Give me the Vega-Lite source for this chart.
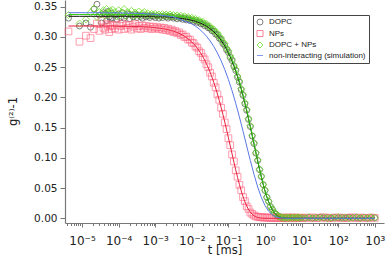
{
"$schema":"https://vega.github.io/schema/vega-lite/v6.json",
"width":319,"height":223,"autosize":"none",
"padding":{"left":65,"top":0,"right":4,"bottom":36},
"config":{"view":{"stroke":null},
"axis":{"domainColor":"#777","tickColor":"#777","domainWidth":1.2,"labelFont":"DejaVu Sans","labelFontSize":10.5,"labelColor":"#222","titleFont":"DejaVu Sans","titleFontWeight":"normal","titleColor":"#222","grid":false,"labelOverlap":false,"labelFlush":false},
"axisY":{"values":[0,0.05,0.1,0.15,0.2,0.25,0.3,0.35],"format":".2f","titleAngle":-90,"titleX":-52,"titleY":111,"titleAlign":"center","titleBaseline":"middle","titleFontSize":11.5,"tickSize":5,"labelPadding":3},
"legend":{"orient":"none","legendX":188,"legendY":15,"strokeColor":"#444","fillColor":"white","padding":3,"labelFont":"Liberation Sans","labelFontSize":8,"labelColor":"#222","symbolSize":36,"symbolStrokeWidth":1,"rowPadding":1.5,"labelOffset":5}},
"datasets":{
"dopc":[
{"t":4.27e-6,"g":0.331,"f":0.334},{"t":8.54e-6,"g":0.318,"f":0.334},{"t":1.281e-5,"g":0.323,"f":0.334},{"t":1.708e-5,"g":0.316,"f":0.334},{"t":2.135e-5,"g":0.346,"f":0.334},{"t":2.562e-5,"g":0.354,"f":0.334},{"t":2.989e-5,"g":0.336,"f":0.334},{"t":3.416e-5,"g":0.323,"f":0.334},{"t":3.843e-5,"g":0.340,"f":0.334},{"t":4.27e-5,"g":0.338,"f":0.334},{"t":4.697e-5,"g":0.327,"f":0.334},{"t":5.124e-5,"g":0.342,"f":0.334},{"t":5.551e-5,"g":0.333,"f":0.334},{"t":5.978e-5,"g":0.330,"f":0.334},{"t":6.405e-5,"g":0.339,"f":0.334},{"t":6.832e-5,"g":0.331,"f":0.334},
{"t":7.943e-5,"g":0.336,"f":0.334},{"t":8.913e-5,"g":0.329,"f":0.334},
{"t":1e-4,"g":0.338,"f":0.334},{"t":1.122e-4,"g":0.332,"f":0.334},{"t":1.259e-4,"g":0.340,"f":0.334},{"t":1.413e-4,"g":0.331,"f":0.334},{"t":1.585e-4,"g":0.335,"f":0.334},{"t":1.778e-4,"g":0.338,"f":0.334},{"t":1.995e-4,"g":0.330,"f":0.334},{"t":2.239e-4,"g":0.336,"f":0.334},{"t":2.512e-4,"g":0.333,"f":0.334},{"t":2.818e-4,"g":0.337,"f":0.334},{"t":3.162e-4,"g":0.332,"f":0.334},{"t":3.548e-4,"g":0.336,"f":0.334},{"t":3.981e-4,"g":0.334,"f":0.334},{"t":4.467e-4,"g":0.331,"f":0.334},{"t":5.012e-4,"g":0.336,"f":0.334},{"t":5.623e-4,"g":0.333,"f":0.334},{"t":6.31e-4,"g":0.335,"f":0.334},{"t":7.079e-4,"g":0.332,"f":0.334},{"t":7.943e-4,"g":0.335,"f":0.334},{"t":8.913e-4,"g":0.334,"f":0.334},
{"t":1e-3,"g":0.332,"f":0.333},{"t":1.122e-3,"g":0.335,"f":0.333},{"t":1.259e-3,"g":0.331,"f":0.333},{"t":1.413e-3,"g":0.334,"f":0.333},{"t":1.585e-3,"g":0.332,"f":0.333},{"t":1.778e-3,"g":0.335,"f":0.333},{"t":1.995e-3,"g":0.333,"f":0.333},{"t":2.239e-3,"g":0.331,"f":0.333},{"t":2.512e-3,"g":0.334,"f":0.333},{"t":2.818e-3,"g":0.333,"f":0.3321},{"t":3.162e-3,"g":0.331,"f":0.3319},{"t":3.548e-3,"g":0.333,"f":0.3316},{"t":3.981e-3,"g":0.330,"f":0.3314},{"t":4.467e-3,"g":0.332,"f":0.3310},{"t":5.012e-3,"g":0.331,"f":0.3307},{"t":5.623e-3,"g":0.329,"f":0.3303},{"t":6.31e-3,"g":0.331,"f":0.3298},{"t":7.079e-3,"g":0.328,"f":0.3293},{"t":7.943e-3,"g":0.330,"f":0.3287},{"t":8.913e-3,"g":0.327,"f":0.3281},
{"t":1e-2,"g":0.328,"f":0.3273},{"t":1.122e-2,"g":0.3255,"f":0.3266},{"t":1.259e-2,"g":0.327,"f":0.3257},{"t":1.413e-2,"g":0.324,"f":0.3247},{"t":1.585e-2,"g":0.3248,"f":0.3236},{"t":1.778e-2,"g":0.3215,"f":0.3223},{"t":1.995e-2,"g":0.322,"f":0.3209},{"t":2.239e-2,"g":0.3185,"f":0.3194},{"t":2.512e-2,"g":0.3188,"f":0.3176},{"t":2.818e-2,"g":0.315,"f":0.3157},{"t":3.162e-2,"g":0.3145,"f":0.3135},{"t":3.548e-2,"g":0.3102,"f":0.3111},{"t":3.981e-2,"g":0.3095,"f":0.3084},{"t":4.467e-2,"g":0.3046,"f":0.3054},{"t":5.012e-2,"g":0.3032,"f":0.3021},{"t":5.623e-2,"g":0.2978,"f":0.2985},{"t":6.31e-2,"g":0.2955,"f":0.2944},{"t":7.079e-2,"g":0.289,"f":0.2899},{"t":7.943e-2,"g":0.286,"f":0.2849},{"t":8.913e-2,"g":0.2786,"f":0.2795},
{"t":0.1,"g":0.2745,"f":0.2734},{"t":0.1122,"g":0.266,"f":0.2669},{"t":0.1259,"g":0.2608,"f":0.2597},{"t":0.1413,"g":0.251,"f":0.2518},{"t":0.1585,"g":0.2444,"f":0.2433},{"t":0.1778,"g":0.2332,"f":0.2340},{"t":0.1995,"g":0.2252,"f":0.2241},{"t":0.2239,"g":0.2126,"f":0.2134},{"t":0.2512,"g":0.2032,"f":0.2021},{"t":0.2818,"g":0.1893,"f":0.1901},{"t":0.3162,"g":0.1786,"f":0.1775},{"t":0.3548,"g":0.1635,"f":0.1643},{"t":0.3981,"g":0.1516,"f":0.1506},{"t":0.4467,"g":0.136,"f":0.1367},{"t":0.5012,"g":0.1236,"f":0.1226},{"t":0.5623,"g":0.1078,"f":0.1085},{"t":0.631,"g":0.0955,"f":0.0946},{"t":0.7079,"g":0.0804,"f":0.0811},{"t":0.7943,"g":0.0691,"f":0.0682},{"t":0.8913,"g":0.0556,"f":0.0562},
{"t":1,"g":0.046,"f":0.0452},{"t":1.122,"g":0.0348,"f":0.0354},{"t":1.259,"g":0.0277,"f":0.0269},{"t":1.413,"g":0.0193,"f":0.0198},{"t":1.585,"g":0.0147,"f":0.014},{"t":1.778,"g":0.0092,"f":0.0096},{"t":1.995,"g":0.0068,"f":0.0062},{"t":2.239,"g":0.0035,"f":0.0038},{"t":2.512,"g":0.0028,"f":0.0022},{"t":2.818,"g":0.001,"f":0.0012},{"t":3.162,"g":0.0014,"f":0.0006},{"t":3.548,"g":0.0002,"f":0.0003},{"t":3.981,"g":0.0012,"f":0.0001},{"t":4.467,"g":0.0003,"f":0},{"t":5.012,"g":0.0015,"f":0},{"t":5.623,"g":0.0006,"f":0},{"t":6.31,"g":0.0018,"f":0},{"t":7.079,"g":0.0004,"f":0},{"t":7.943,"g":0.0011,"f":0},{"t":8.913,"g":0.0002,"f":0},
{"t":10,"g":0.0013,"f":0},{"t":12.59,"g":0.0005,"f":0},{"t":15.85,"g":0.0016,"f":0},{"t":19.95,"g":0.0003,"f":0},{"t":25.12,"g":0.0012,"f":0},{"t":31.62,"g":0.002,"f":0},{"t":39.81,"g":0.0006,"f":0},{"t":50.12,"g":0.0014,"f":0},{"t":63.1,"g":0.0001,"f":0},{"t":79.43,"g":0.0017,"f":0},{"t":100,"g":0.0008,"f":0},{"t":125.9,"g":0.0015,"f":0},{"t":158.5,"g":0.0004,"f":0},{"t":199.5,"g":0.0019,"f":0},{"t":251.2,"g":0.0009,"f":0},{"t":316.2,"g":0.0012,"f":0},{"t":398.1,"g":0.0002,"f":0},{"t":501.2,"g":0.0016,"f":0},{"t":631,"g":0.0007,"f":0},{"t":794.3,"g":0.0014,"f":0},{"t":1000,"g":0.001,"f":0}
],
"nps":[
{"t":4.27e-6,"g":0.309,"f":0.318},{"t":8.54e-6,"g":0.292,"f":0.318},{"t":1.281e-5,"g":0.302,"f":0.318},{"t":1.708e-5,"g":0.298,"f":0.318},{"t":2.135e-5,"g":0.313,"f":0.318},{"t":2.562e-5,"g":0.322,"f":0.318},{"t":2.989e-5,"g":0.310,"f":0.318},{"t":3.416e-5,"g":0.327,"f":0.318},{"t":3.843e-5,"g":0.315,"f":0.318},{"t":4.27e-5,"g":0.312,"f":0.318},{"t":4.697e-5,"g":0.321,"f":0.318},{"t":5.124e-5,"g":0.317,"f":0.318},{"t":5.551e-5,"g":0.308,"f":0.318},{"t":5.978e-5,"g":0.320,"f":0.318},{"t":6.405e-5,"g":0.313,"f":0.318},{"t":6.832e-5,"g":0.318,"f":0.318},
{"t":7.943e-5,"g":0.314,"f":0.3178},{"t":8.913e-5,"g":0.320,"f":0.3178},
{"t":1e-4,"g":0.312,"f":0.3177},{"t":1.122e-4,"g":0.318,"f":0.3177},{"t":1.259e-4,"g":0.322,"f":0.3176},{"t":1.413e-4,"g":0.313,"f":0.3176},{"t":1.585e-4,"g":0.319,"f":0.3175},{"t":1.778e-4,"g":0.315,"f":0.3175},{"t":1.995e-4,"g":0.320,"f":0.3174},{"t":2.239e-4,"g":0.312,"f":0.3174},{"t":2.512e-4,"g":0.317,"f":0.3173},{"t":2.818e-4,"g":0.321,"f":0.3172},{"t":3.162e-4,"g":0.314,"f":0.3171},{"t":3.548e-4,"g":0.318,"f":0.3170},{"t":3.981e-4,"g":0.313,"f":0.3169},{"t":4.467e-4,"g":0.319,"f":0.3168},{"t":5.012e-4,"g":0.315,"f":0.3166},{"t":5.623e-4,"g":0.318,"f":0.3165},{"t":6.31e-4,"g":0.314,"f":0.3163},{"t":7.079e-4,"g":0.317,"f":0.3161},{"t":7.943e-4,"g":0.313,"f":0.3158},{"t":8.913e-4,"g":0.317,"f":0.3155},
{"t":1e-3,"g":0.314,"f":0.3152},{"t":1.122e-3,"g":0.316,"f":0.3149},{"t":1.259e-3,"g":0.313,"f":0.3145},{"t":1.413e-3,"g":0.3155,"f":0.3141},{"t":1.585e-3,"g":0.312,"f":0.3136},{"t":1.778e-3,"g":0.3148,"f":0.3131},{"t":1.995e-3,"g":0.311,"f":0.3125},{"t":2.239e-3,"g":0.3135,"f":0.3119},{"t":2.512e-3,"g":0.3098,"f":0.3111},{"t":2.818e-3,"g":0.312,"f":0.3103},{"t":3.162e-3,"g":0.308,"f":0.3094},{"t":3.548e-3,"g":0.3098,"f":0.3083},{"t":3.981e-3,"g":0.306,"f":0.3072},{"t":4.467e-3,"g":0.3075,"f":0.3059},{"t":5.012e-3,"g":0.3032,"f":0.3044},{"t":5.623e-3,"g":0.3042,"f":0.3028},{"t":6.31e-3,"g":0.2998,"f":0.3010},{"t":7.079e-3,"g":0.3004,"f":0.2990},{"t":7.943e-3,"g":0.2957,"f":0.2968},{"t":8.913e-3,"g":0.2955,"f":0.2943},
{"t":1e-2,"g":0.2905,"f":0.2915},{"t":1.122e-2,"g":0.2895,"f":0.2884},{"t":1.259e-2,"g":0.2842,"f":0.2850},{"t":1.413e-2,"g":0.2822,"f":0.2812},{"t":1.585e-2,"g":0.2762,"f":0.2770},{"t":1.778e-2,"g":0.2734,"f":0.2724},{"t":1.995e-2,"g":0.2665,"f":0.2673},{"t":2.239e-2,"g":0.2627,"f":0.2617},{"t":2.512e-2,"g":0.2548,"f":0.2556},{"t":2.818e-2,"g":0.2498,"f":0.2488},{"t":3.162e-2,"g":0.2407,"f":0.2415},{"t":3.548e-2,"g":0.2345,"f":0.2335},{"t":3.981e-2,"g":0.2241,"f":0.2249},{"t":4.467e-2,"g":0.2166,"f":0.2156},{"t":5.012e-2,"g":0.2048,"f":0.2056},{"t":5.623e-2,"g":0.196,"f":0.1950},{"t":6.31e-2,"g":0.1828,"f":0.1836},{"t":7.079e-2,"g":0.1728,"f":0.1718},{"t":7.943e-2,"g":0.1585,"f":0.1593},{"t":8.913e-2,"g":0.1474,"f":0.1464},
{"t":0.1,"g":0.1324,"f":0.1332},{"t":0.1122,"g":0.1208,"f":0.1198},{"t":0.1259,"g":0.1056,"f":0.1064},{"t":0.1413,"g":0.094,"f":0.0930},{"t":0.1585,"g":0.0793,"f":0.0801},{"t":0.1778,"g":0.0687,"f":0.0677},{"t":0.1995,"g":0.0553,"f":0.0561},{"t":0.2239,"g":0.0463,"f":0.0453},{"t":0.2512,"g":0.035,"f":0.0357},{"t":0.2818,"g":0.0283,"f":0.0274},{"t":0.3162,"g":0.0197,"f":0.0203},{"t":0.3548,"g":0.0153,"f":0.0145},{"t":0.3981,"g":0.0095,"f":0.0100},{"t":0.4467,"g":0.0072,"f":0.0065},{"t":0.5012,"g":0.0046,"f":0.0041},{"t":0.5623,"g":0.0031,"f":0.0024},{"t":0.631,"g":0.0024,"f":0.0013},{"t":0.7079,"g":0.0016,"f":0.0007},{"t":0.7943,"g":0.0021,"f":0.0003},{"t":0.8913,"g":0.001,"f":0.0001},
{"t":1,"g":0.0017,"f":0},{"t":1.122,"g":0.0008,"f":0},{"t":1.259,"g":0.0014,"f":0},{"t":1.413,"g":0.0003,"f":0},{"t":1.585,"g":0.0012,"f":0},{"t":1.778,"g":0.0006,"f":0},{"t":1.995,"g":0.0015,"f":0},{"t":2.239,"g":0.0002,"f":0},{"t":2.512,"g":0.001,"f":0},{"t":2.818,"g":0.0004,"f":0},{"t":3.162,"g":0.0013,"f":0},{"t":3.548,"g":0.0001,"f":0},{"t":3.981,"g":0.0009,"f":0},{"t":4.467,"g":0.0016,"f":0},{"t":5.012,"g":0.0005,"f":0},{"t":5.623,"g":0.0011,"f":0},{"t":6.31,"g":0,"f":0},{"t":7.079,"g":0.0014,"f":0},{"t":7.943,"g":0.0006,"f":0},{"t":8.913,"g":0.001,"f":0},
{"t":10,"g":0.0003,"f":0},{"t":12.59,"g":0.0012,"f":0},{"t":15.85,"g":0.0005,"f":0},{"t":19.95,"g":0.0015,"f":0},{"t":25.12,"g":0.0002,"f":0},{"t":31.62,"g":0.0009,"f":0},{"t":39.81,"g":0.0017,"f":0},{"t":50.12,"g":0.0004,"f":0},{"t":63.1,"g":0.0011,"f":0},{"t":79.43,"g":0.0007,"f":0},{"t":100,"g":0.0014,"f":0},{"t":125.9,"g":0.0001,"f":0},{"t":158.5,"g":0.001,"f":0},{"t":199.5,"g":0.0006,"f":0},{"t":251.2,"g":0.0016,"f":0},{"t":316.2,"g":0.0003,"f":0},{"t":398.1,"g":0.0012,"f":0},{"t":501.2,"g":0.0008,"f":0},{"t":631,"g":0.0002,"f":0},{"t":794.3,"g":0.0013,"f":0},{"t":1000,"g":0.0007,"f":0}
],
"mix":[
{"t":4.27e-6,"g":0.336,"f":0.337},{"t":8.54e-6,"g":0.322,"f":0.337},{"t":1.281e-5,"g":0.329,"f":0.337},{"t":1.708e-5,"g":0.340,"f":0.337},{"t":2.135e-5,"g":0.347,"f":0.337},{"t":2.562e-5,"g":0.333,"f":0.337},{"t":2.989e-5,"g":0.341,"f":0.337},{"t":3.416e-5,"g":0.338,"f":0.337},{"t":3.843e-5,"g":0.344,"f":0.337},{"t":4.27e-5,"g":0.335,"f":0.337},{"t":4.697e-5,"g":0.346,"f":0.337},{"t":5.124e-5,"g":0.340,"f":0.337},{"t":5.551e-5,"g":0.337,"f":0.337},{"t":5.978e-5,"g":0.343,"f":0.337},{"t":6.405e-5,"g":0.339,"f":0.337},{"t":6.832e-5,"g":0.345,"f":0.337},
{"t":7.943e-5,"g":0.341,"f":0.337},{"t":8.913e-5,"g":0.334,"f":0.337},
{"t":1e-4,"g":0.344,"f":0.337},{"t":1.122e-4,"g":0.336,"f":0.337},{"t":1.259e-4,"g":0.340,"f":0.337},{"t":1.413e-4,"g":0.346,"f":0.337},{"t":1.585e-4,"g":0.335,"f":0.337},{"t":1.778e-4,"g":0.341,"f":0.337},{"t":1.995e-4,"g":0.338,"f":0.337},{"t":2.239e-4,"g":0.343,"f":0.337},{"t":2.512e-4,"g":0.334,"f":0.337},{"t":2.818e-4,"g":0.340,"f":0.337},{"t":3.162e-4,"g":0.337,"f":0.337},{"t":3.548e-4,"g":0.342,"f":0.337},{"t":3.981e-4,"g":0.335,"f":0.337},{"t":4.467e-4,"g":0.339,"f":0.337},{"t":5.012e-4,"g":0.341,"f":0.337},{"t":5.623e-4,"g":0.336,"f":0.337},{"t":6.31e-4,"g":0.339,"f":0.337},{"t":7.079e-4,"g":0.335,"f":0.337},{"t":7.943e-4,"g":0.338,"f":0.337},{"t":8.913e-4,"g":0.336,"f":0.337},
{"t":1e-3,"g":0.338,"f":0.336},{"t":1.122e-3,"g":0.335,"f":0.336},{"t":1.259e-3,"g":0.337,"f":0.336},{"t":1.413e-3,"g":0.334,"f":0.336},{"t":1.585e-3,"g":0.3375,"f":0.336},{"t":1.778e-3,"g":0.335,"f":0.336},{"t":1.995e-3,"g":0.337,"f":0.336},{"t":2.239e-3,"g":0.3345,"f":0.336},{"t":2.512e-3,"g":0.337,"f":0.336},{"t":2.818e-3,"g":0.3338,"f":0.3351},{"t":3.162e-3,"g":0.336,"f":0.3349},{"t":3.548e-3,"g":0.3335,"f":0.3346},{"t":3.981e-3,"g":0.3355,"f":0.3343},{"t":4.467e-3,"g":0.333,"f":0.3340},{"t":5.012e-3,"g":0.3348,"f":0.3336},{"t":5.623e-3,"g":0.3322,"f":0.3332},{"t":6.31e-3,"g":0.334,"f":0.3328},{"t":7.079e-3,"g":0.3312,"f":0.3322},{"t":7.943e-3,"g":0.3328,"f":0.3317},{"t":8.913e-3,"g":0.33,"f":0.3310},
{"t":1e-2,"g":0.3314,"f":0.3303},{"t":1.122e-2,"g":0.3286,"f":0.3295},{"t":1.259e-2,"g":0.3297,"f":0.3286},{"t":1.413e-2,"g":0.3268,"f":0.3276},{"t":1.585e-2,"g":0.3276,"f":0.3265},{"t":1.778e-2,"g":0.3243,"f":0.3252},{"t":1.995e-2,"g":0.3249,"f":0.3238},{"t":2.239e-2,"g":0.3214,"f":0.3222},{"t":2.512e-2,"g":0.3216,"f":0.3205},{"t":2.818e-2,"g":0.3177,"f":0.3185},{"t":3.162e-2,"g":0.3174,"f":0.3163},{"t":3.548e-2,"g":0.313,"f":0.3139},{"t":3.981e-2,"g":0.3123,"f":0.3112},{"t":4.467e-2,"g":0.3074,"f":0.3082},{"t":5.012e-2,"g":0.306,"f":0.3049},{"t":5.623e-2,"g":0.3003,"f":0.3011},{"t":6.31e-2,"g":0.2981,"f":0.2970},{"t":7.079e-2,"g":0.2917,"f":0.2925},{"t":7.943e-2,"g":0.2886,"f":0.2875},{"t":8.913e-2,"g":0.2812,"f":0.2820},
{"t":0.1,"g":0.277,"f":0.2759},{"t":0.1122,"g":0.2685,"f":0.2693},{"t":0.1259,"g":0.2631,"f":0.2620},{"t":0.1413,"g":0.2532,"f":0.2540},{"t":0.1585,"g":0.2466,"f":0.2455},{"t":0.1778,"g":0.2353,"f":0.2361},{"t":0.1995,"g":0.2272,"f":0.2261},{"t":0.2239,"g":0.2145,"f":0.2153},{"t":0.2512,"g":0.205,"f":0.2039},{"t":0.2818,"g":0.191,"f":0.1918},{"t":0.3162,"g":0.1801,"f":0.1790},{"t":0.3548,"g":0.1649,"f":0.1657},{"t":0.3981,"g":0.1531,"f":0.1520},{"t":0.4467,"g":0.1371,"f":0.1379},{"t":0.5012,"g":0.1248,"f":0.1237},{"t":0.5623,"g":0.1087,"f":0.1095},{"t":0.631,"g":0.0965,"f":0.0954},{"t":0.7079,"g":0.081,"f":0.0818},{"t":0.7943,"g":0.0699,"f":0.0688},{"t":0.8913,"g":0.0559,"f":0.0567},
{"t":1,"g":0.0466,"f":0.0456},{"t":1.122,"g":0.035,"f":0.0357},{"t":1.259,"g":0.0281,"f":0.0272},{"t":1.413,"g":0.0194,"f":0.02},{"t":1.585,"g":0.015,"f":0.0142},{"t":1.778,"g":0.009,"f":0.0096},{"t":1.995,"g":0.007,"f":0.0062},{"t":2.239,"g":0.0033,"f":0.0038},{"t":2.512,"g":0.003,"f":0.0022},{"t":2.818,"g":0.0009,"f":0.0012},{"t":3.162,"g":0.0016,"f":0.0006},{"t":3.548,"g":0.0004,"f":0.0003},{"t":3.981,"g":0.0013,"f":0.0001},{"t":4.467,"g":0.0005,"f":0},{"t":5.012,"g":0.0017,"f":0},{"t":5.623,"g":0.0003,"f":0},{"t":6.31,"g":0.0012,"f":0},{"t":7.079,"g":0.0007,"f":0},{"t":7.943,"g":0.0015,"f":0},{"t":8.913,"g":0.0002,"f":0},
{"t":10,"g":0.0011,"f":0},{"t":12.59,"g":0.0006,"f":0},{"t":15.85,"g":0.0018,"f":0},{"t":19.95,"g":0.0004,"f":0},{"t":25.12,"g":0.0013,"f":0},{"t":31.62,"g":0.0008,"f":0},{"t":39.81,"g":0.0016,"f":0},{"t":50.12,"g":0.0002,"f":0},{"t":63.1,"g":0.0012,"f":0},{"t":79.43,"g":0.0009,"f":0},{"t":100,"g":0.0019,"f":0},{"t":125.9,"g":0.0005,"f":0},{"t":158.5,"g":0.0014,"f":0},{"t":199.5,"g":0.0001,"f":0},{"t":251.2,"g":0.0011,"f":0},{"t":316.2,"g":0.0017,"f":0},{"t":398.1,"g":0.0006,"f":0},{"t":501.2,"g":0.0013,"f":0},{"t":631,"g":0.0003,"f":0},{"t":794.3,"g":0.0015,"f":0},{"t":1000,"g":0.0008,"f":0}
],
"sim":[
{"t":4.27e-6,"f":0.340},{"t":1e-5,"f":0.340},{"t":1e-4,"f":0.3397},{"t":3.162e-4,"f":0.339},{"t":1e-3,"f":0.3373},{"t":3.162e-3,"f":0.333},{"t":1e-2,"f":0.3216},{"t":1.259e-2,"f":0.3178},{"t":1.585e-2,"f":0.3132},{"t":1.995e-2,"f":0.3077},{"t":2.512e-2,"f":0.3011},{"t":3.162e-2,"f":0.2933},{"t":3.981e-2,"f":0.2841},{"t":5.012e-2,"f":0.2733},{"t":6.31e-2,"f":0.2606},{"t":7.943e-2,"f":0.2461},{"t":0.1,"f":0.2295},{"t":0.1259,"f":0.2108},{"t":0.1585,"f":0.1901},{"t":0.1995,"f":0.1677},{"t":0.2512,"f":0.1439},{"t":0.3162,"f":0.1194},{"t":0.3981,"f":0.0953},{"t":0.5012,"f":0.0724},{"t":0.631,"f":0.0518},{"t":0.7943,"f":0.0345},{"t":1,"f":0.021},{"t":1.259,"f":0.0115},{"t":1.585,"f":0.0055},{"t":1.995,"f":0.0023},{"t":2.512,"f":0.0008},{"t":3.162,"f":0.0002},{"t":3.981,"f":0},{"t":10,"f":0},{"t":100,"f":0},{"t":1000,"f":0}
]},
"resolve":{"axis":{"x":"independent"}},
"layer":[
{"data":{"name":"dopc"},"mark":{"type":"point","filled":false,"strokeWidth":1,"opacity":0.75,"size":35},
"encoding":{
"x":{"field":"t","type":"quantitative","scale":{"type":"log","domain":[3.43e-6,1782],"nice":false},
"axis":{"orient":"bottom","values":[1e-5,1e-4,1e-3,1e-2,0.1,1,10,100,1000],"labelExpr":"'10' + ['⁻⁵','⁻⁴','⁻³','⁻²','⁻¹','⁰','¹','²','³'][round(log(datum.value)/LN10)+5]","labelFontSize":12,"tickSize":4,"labelPadding":8,"title":"t [ms]","titleFontSize":11.5,"titleY":30,"titleBaseline":"alphabetic"}},
"y":{"field":"g","type":"quantitative","scale":{"domain":[-0.0078,0.361],"nice":false,"zero":false},"axis":{"title":"g⁽²⁾-1"}},
"color":{"datum":"DOPC","type":"nominal","scale":{"domain":["DOPC","NPs","DOPC + NPs","non-interacting (simulation)"],"range":["#555555","#ff5a78","#66dd22","#5a78e6"]},"legend":{"title":null}},
"shape":{"datum":"DOPC","type":"nominal","scale":{"domain":["DOPC","NPs","DOPC + NPs","non-interacting (simulation)"],"range":["circle","square","diamond","stroke"]},"legend":{"title":null}}}},
{"data":{"name":"nps"},"mark":{"type":"point","filled":false,"strokeWidth":1,"opacity":0.6,"size":45},
"encoding":{
"x":{"field":"t","type":"quantitative","scale":{"type":"log","domain":[3.43e-6,1782],"nice":false},
"axis":{"orient":"bottom","values":[4e-6,5e-6,6e-6,7e-6,8e-6,9e-6,2e-5,3e-5,4e-5,5e-5,6e-5,7e-5,8e-5,9e-5,2e-4,3e-4,4e-4,5e-4,6e-4,7e-4,8e-4,9e-4,2e-3,3e-3,4e-3,5e-3,6e-3,7e-3,8e-3,9e-3,0.02,0.03,0.04,0.05,0.06,0.07,0.08,0.09,0.2,0.3,0.4,0.5,0.6,0.7,0.8,0.9,2,3,4,5,6,7,8,9,20,30,40,50,60,70,80,90,200,300,400,500,600,700,800,900],"labels":false,"domain":false,"tickSize":2.5,"title":null}},
"y":{"field":"g","type":"quantitative","scale":{"domain":[-0.0078,0.361],"nice":false,"zero":false},"axis":{"title":"g⁽²⁾-1"}},
"color":{"datum":"NPs","type":"nominal"},
"shape":{"datum":"NPs","type":"nominal"}}},
{"data":{"name":"mix"},"mark":{"type":"point","filled":false,"strokeWidth":1,"opacity":0.75,"size":50},
"encoding":{
"x":{"field":"t","type":"quantitative","scale":{"type":"log","domain":[3.43e-6,1782],"nice":false},"axis":null},
"y":{"field":"g","type":"quantitative","scale":{"domain":[-0.0078,0.361],"nice":false,"zero":false},"axis":{"title":"g⁽²⁾-1"}},
"color":{"datum":"DOPC + NPs","type":"nominal"},
"shape":{"datum":"DOPC + NPs","type":"nominal"}}},
{"data":{"name":"dopc"},"mark":{"type":"line","color":"#111111","strokeWidth":1},
"encoding":{"x":{"field":"t","type":"quantitative","scale":{"type":"log","domain":[3.43e-6,1782],"nice":false},"axis":null},
"y":{"field":"f","type":"quantitative","scale":{"domain":[-0.0078,0.361],"nice":false,"zero":false},"axis":{"title":"g⁽²⁾-1"}}}},
{"data":{"name":"nps"},"mark":{"type":"line","color":"#e8203c","strokeWidth":1},
"encoding":{"x":{"field":"t","type":"quantitative","scale":{"type":"log","domain":[3.43e-6,1782],"nice":false},"axis":null},
"y":{"field":"f","type":"quantitative","scale":{"domain":[-0.0078,0.361],"nice":false,"zero":false},"axis":{"title":"g⁽²⁾-1"}}}},
{"data":{"name":"mix"},"mark":{"type":"line","color":"#33cc11","strokeWidth":1},
"encoding":{"x":{"field":"t","type":"quantitative","scale":{"type":"log","domain":[3.43e-6,1782],"nice":false},"axis":null},
"y":{"field":"f","type":"quantitative","scale":{"domain":[-0.0078,0.361],"nice":false,"zero":false},"axis":{"title":"g⁽²⁾-1"}}}},
{"data":{"name":"sim"},"mark":{"type":"line","strokeWidth":1},
"encoding":{"x":{"field":"t","type":"quantitative","scale":{"type":"log","domain":[3.43e-6,1782],"nice":false},"axis":null},
"y":{"field":"f","type":"quantitative","scale":{"domain":[-0.0078,0.361],"nice":false,"zero":false},"axis":{"title":"g⁽²⁾-1"}},
"color":{"datum":"non-interacting (simulation)","type":"nominal"}}}
]
}
